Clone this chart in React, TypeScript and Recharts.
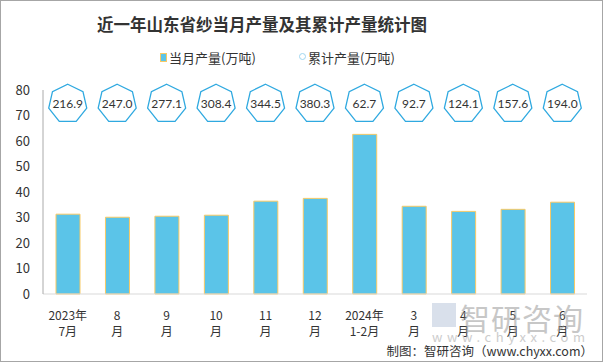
import * as React from 'react';
import {
	Bar,
	ComposedChart,
	Line,
	XAxis,
	YAxis,
} from 'recharts';

const months = ['2023年7月', '8月', '9月', '10月', '11月', '12月', '2024年1-2月', '3月', '4月', '5月', '6月'];
const tickTop = ['2023年', '8', '9', '10', '11', '12', '2024年', '3', '4', '5', '6'];
const tickBottom = ['7月', '月', '月', '月', '月', '月', '1-2月', '月', '月', '月', '月'];
const monthly = [31.3, 30.1, 30.5, 30.9, 36.4, 37.5, 62.6, 34.4, 32.4, 33.2, 36.0];
const cumulative = [216.9, 247.0, 277.1, 308.4, 344.5, 380.3, 62.7, 92.7, 124.1, 157.6, 194.0];
const yTicks = [0, 10, 20, 30, 40, 50, 60, 70, 80];
// the cumulative badges sit in a row near the top of the value axis
const badgeLevel = 74.6;

const data = months.map((name, i) => ({
	name,
	monthly: monthly[i],
	cumulative: cumulative[i],
	badge: badgeLevel,
}));

const BAR_FILL = '#5BC4E8';
const BAR_STROKE = '#F7C965';
const BADGE_STROKE = '#2FA9E0';
const cjk = '"Noto Sans CJK SC", sans-serif';

function XTick(props: any) {
	const {x, y, payload} = props;
	const i = payload.index;
	return (
		<g>
			<text x={x} y={y + 18} textAnchor="middle" fontSize={12} fill="#333" fontFamily={cjk}>{tickTop[i]}</text>
			<text x={x} y={y + 34} textAnchor="middle" fontSize={12} fill="#333" fontFamily={cjk}>{tickBottom[i]}</text>
		</g>
	);
}

function Badge(props: any) {
	const {cx, cy, payload} = props;
	if (cx == null || cy == null) return null;
	const r = 19.5;
	const pts = [];
	for (let k = 0; k < 7; k++) {
		const a = -Math.PI / 2 + (k * 2 * Math.PI) / 7;
		pts.push(`${cx + r * Math.cos(a)},${cy + r * Math.sin(a)}`);
	}
	return (
		<g>
			<polygon points={pts.join(' ')} fill="#fff" stroke={BADGE_STROKE} strokeWidth={1.3}/>
			<text x={cx} y={cy + 4} textAnchor="middle" fontSize={12} fill="#333" fontFamily="Lato, sans-serif">
				{payload.cumulative.toFixed(1)}
			</text>
		</g>
	);
}

function LegendBox() {
	return (
		<div style={{position: 'absolute', left: 0, top: 48, width: 603, height: 20, fontFamily: cjk, fontSize: 13, color: '#333'}}>
			<span style={{position: 'absolute', left: 160, top: 5, width: 5, height: 7, background: BAR_FILL, border: `1px solid ${BAR_STROKE}`}}/>
			<span style={{position: 'absolute', left: 169, top: 0}}>当月产量(万吨)</span>
			<span style={{position: 'absolute', left: 299, top: 5, width: 5, height: 5, borderRadius: 4, border: '1px solid #9fd6ef'}}/>
			<span style={{position: 'absolute', left: 308, top: 0}}>累计产量(万吨)</span>
		</div>
	);
}

export default
function App() {
	return (
		<div style={{position: 'absolute', left: 0, top: 0, width: 603, height: 362, background: '#fff'}}>
			<div style={{position: 'absolute', left: 0, top: 0, width: 601, height: 360, border: '1px solid #a6a6a6'}}/>
			<div style={{position: 'absolute', left: 0, width: 524, top: 12, textAlign: 'center', fontFamily: cjk, fontWeight: 700, fontSize: 16.5, color: '#333'}}>
				近一年山东省纱当月产量及其累计产量统计图
			</div>
			<LegendBox/>
			<div style={{position: 'absolute', left: 0, top: 0}}>
				<ComposedChart
					width={603}
					height={362}
					data={data}
					margin={{top: 90, right: 16, bottom: 0, left: 0}}
				>
					<XAxis
						dataKey="name"
						height={68}
						tick={<XTick/>}
						tickLine={false}
						axisLine={{stroke: '#d9d9d9'}}
						interval={0}
					/>
					<YAxis
						yAxisId="left"
						width={43}
						domain={[0, 80]}
						ticks={yTicks}
						tickLine={false}
						tickMargin={7}
						axisLine={{stroke: '#aaa'}}
						tick={{fontSize: 13, fill: '#333', fontFamily: cjk}}
					/>
					<Bar
						yAxisId="left"
						dataKey="monthly"
						fill={BAR_FILL}
						stroke={BAR_STROKE}
						strokeWidth={1}
						barSize={24}
						isAnimationActive={false}
					/>
					<Line
						yAxisId="left"
						dataKey="badge"
						stroke="none"
						dot={<Badge/>}
						activeDot={false}
						isAnimationActive={false}
					/>
				</ComposedChart>
			</div>
			<div style={{position: 'absolute', left: 432, top: 303, width: 24, height: 24, background: '#c9d3e3', opacity: 0.7}}/>
			<div style={{position: 'absolute', left: 460, top: 295, fontFamily: cjk, fontSize: 30, color: '#9a9a9a', opacity: 0.55, letterSpacing: 1}}>
				智研咨询
			</div>
			<div style={{position: 'absolute', left: 432, top: 327, fontFamily: cjk, fontSize: 13, color: '#9a9a9a', opacity: 0.5, letterSpacing: 4.6}}>
				www.chyxx.com
			</div>
			<div style={{position: 'absolute', right: 10, top: 341, fontFamily: cjk, fontSize: 12.5, color: '#333', whiteSpace: 'nowrap'}}>
				制图：智研咨询（www.chyxx.com）
			</div>
		</div>
	);
}
